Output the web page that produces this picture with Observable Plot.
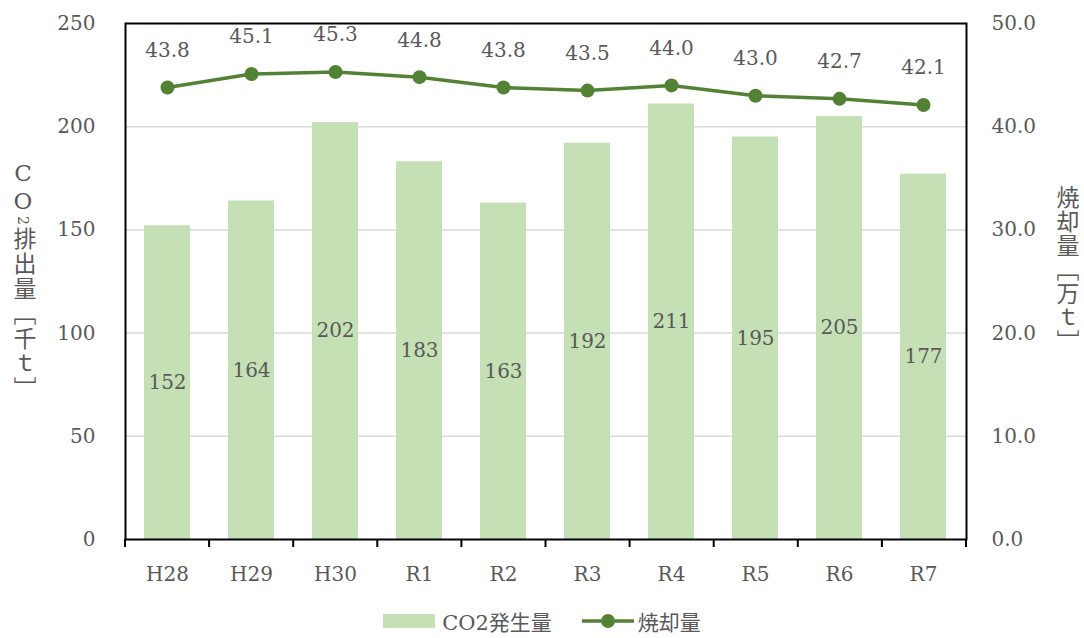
<!DOCTYPE html>
<html>
<head>
<meta charset="utf-8">
<script src="https://cdn.jsdelivr.net/npm/d3@7"></script>
<script src="https://cdn.jsdelivr.net/npm/@observablehq/plot@0.6"></script>
<style>
  body { margin: 0; background: #fff; }
  #wrap { position: relative; width: 1084px; height: 638px; font-family: "DejaVu Serif", "Noto Sans CJK JP", serif; color: #595959; }
  .vt { position: absolute; writing-mode: vertical-rl; text-orientation: upright; font-size: 23px; line-height: 26px; font-family: "DejaVu Serif", "Noto Sans CJK JP", serif; color: #595959; letter-spacing: 1px; }
  #legend { position: absolute; top: 606px; left: 0; width: 1084px; display: flex; justify-content: center; align-items: center; font-size: 21px; gap: 0; }
  .item { display: flex; align-items: center; }
</style>
</head>
<body>
<div id="wrap">
  <div id="chart"></div>
  <div class="vt" id="ltitle" style="left: 10px; top: 160px; letter-spacing: 2px;">CO<span style="font-size:14px;text-orientation:sideways;">2</span>排出量［千ｔ］</div>
  <div class="vt" id="rtitle" style="left: 1053px; top: 186px;">焼却量［万ｔ］</div>
  <div id="legend"></div>
</div>
<script>
const categories = ["H28","H29","H30","R1","R2","R3","R4","R5","R6","R7"];
const co2 = [152,164,202,183,163,192,211,195,205,177];
const incineration = [43.8,45.1,45.3,44.8,43.8,43.5,44.0,43.0,42.7,42.1];
const leftTicks = [0,50,100,150,200,250];
const rightTicks = [0,10,20,30,40,50];
const seriesNames = ["CO2発生量","焼却量"];

const barColor = "#c5e0b4";
const lineColor = "#548235";
const textColor = "#595959";
const ratio = 5; // right axis value * 5 = left axis value

const data = categories.map((c, i) => ({cat: c, co2: co2[i], inc: incineration[i], incL: incineration[i] * ratio}));

const W = 1084, H = 600;
const ml = 125, mr = 118, mt = 23, mb = 61;

const boundaryTicks = (index, scales, values, dims) => {
  const step = (dims.width - dims.marginLeft - dims.marginRight) / categories.length;
  const g = d3.create("svg:g");
  const y0 = dims.height - dims.marginBottom;
  for (let i = 0; i <= categories.length; i++) {
    const px = dims.marginLeft + i * step;
    g.append("line").attr("x1", px).attr("x2", px).attr("y1", y0).attr("y2", y0 + 8)
      .attr("stroke", "#000").attr("stroke-width", 2);
  }
  return g.node();
};

const plot = Plot.plot({
  width: W, height: H,
  marginLeft: ml, marginRight: mr, marginTop: mt, marginBottom: mb,
  style: {fontFamily: '"DejaVu Serif", "Noto Sans CJK JP", serif', fontSize: "20px", color: textColor, background: "#fff"},
  x: {type: "band", domain: categories, paddingInner: 0.45, paddingOuter: 0.225, label: null},
  y: {domain: [0, 250], label: null},
  marks: [
    Plot.ruleY([50,100,150,200], {stroke: "#d9d9d9", strokeWidth: 1.5}),
    Plot.barY(data, {x: "cat", y: "co2", fill: barColor}),
    Plot.text(data, {x: "cat", y: d => d.co2 / 2, text: d => String(d.co2), fill: textColor, fontSize: 20}),
    Plot.frame({stroke: "#000", strokeWidth: 2}),
    boundaryTicks,
    Plot.axisY({ticks: leftTicks, tickSize: 0, tickPadding: 30, fontSize: 20, label: null, anchor: "left", fill: textColor}),
    Plot.axisY({ticks: rightTicks.map(v => v * ratio), tickSize: 0, tickPadding: 25, fontSize: 20, label: null, anchor: "right", fill: textColor,
      tickFormat: d => (d / ratio).toFixed(1)}),
    Plot.axisX({tickSize: 0, tickPadding: 27, fontSize: 20, label: null, fill: textColor}),
    Plot.line(data, {x: "cat", y: "incL", stroke: lineColor, strokeWidth: 3.5}),
    Plot.dot(data, {x: "cat", y: "incL", fill: lineColor, r: 7}),
    Plot.text(data, {x: "cat", y: "incL", text: d => d.inc.toFixed(1), dy: -37, fill: textColor, fontSize: 20})
  ]
});
document.getElementById("chart").appendChild(plot);

// legend
const legend = document.getElementById("legend");
legend.innerHTML = `
  <div class="item"><svg width="52" height="14" style="margin-right:7px"><rect width="52" height="14" fill="${barColor}"/></svg><span>${seriesNames[0]}</span></div>
  <div class="item" style="margin-left:30px"><svg width="52" height="16" style="margin-right:4px"><line x1="0" x2="52" y1="8" y2="8" stroke="${lineColor}" stroke-width="3.5"/><circle cx="26" cy="8" r="7" fill="${lineColor}"/></svg><span>${seriesNames[1]}</span></div>
`;
</script>
</body>
</html>
